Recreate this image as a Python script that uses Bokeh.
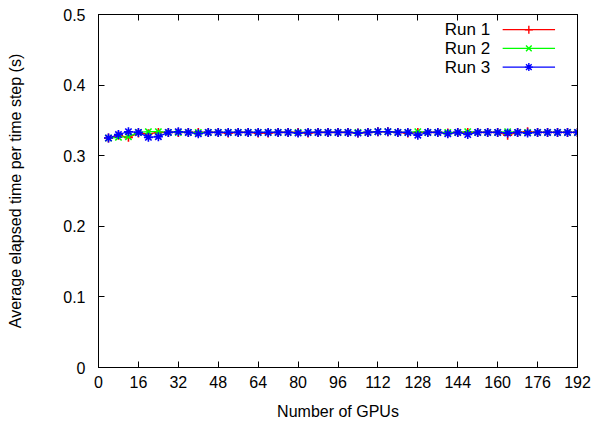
from bokeh.plotting import figure
from bokeh.models import Range1d, FixedTicker, LinearAxis, Label, CustomJSTickFormatter
from bokeh.embed import file_html
from bokeh.resources import INLINE

# ---- data ----
gpus = list(range(4, 193, 4))
run1 = [0.325, 0.329, 0.326, 0.332, 0.331, 0.333, 0.333, 0.333, 0.333, 0.333, 0.333, 0.333,
        0.332, 0.333, 0.333, 0.332, 0.332, 0.333, 0.333, 0.333, 0.332, 0.333, 0.333, 0.333,
        0.333, 0.332, 0.333, 0.334, 0.334, 0.333, 0.332, 0.333, 0.333, 0.333, 0.332, 0.333,
        0.333, 0.333, 0.333, 0.333, 0.329, 0.333, 0.334, 0.333, 0.333, 0.333, 0.333, 0.333]
run2 = [0.325, 0.326, 0.327, 0.333, 0.334, 0.334, 0.333, 0.333, 0.333, 0.333, 0.333, 0.333,
        0.333, 0.333, 0.333, 0.333, 0.333, 0.333, 0.333, 0.333, 0.333, 0.333, 0.333, 0.333,
        0.333, 0.333, 0.333, 0.334, 0.334, 0.333, 0.333, 0.334, 0.333, 0.333, 0.333, 0.333,
        0.334, 0.333, 0.333, 0.333, 0.334, 0.333, 0.333, 0.333, 0.333, 0.333, 0.333, 0.333]
run3 = [0.325, 0.330, 0.334, 0.333, 0.326, 0.327, 0.333, 0.334, 0.333, 0.331, 0.333, 0.333,
        0.333, 0.333, 0.333, 0.333, 0.333, 0.333, 0.333, 0.332, 0.333, 0.333, 0.333, 0.333,
        0.333, 0.332, 0.333, 0.334, 0.334, 0.333, 0.333, 0.329, 0.333, 0.333, 0.331, 0.333,
        0.330, 0.333, 0.333, 0.333, 0.332, 0.333, 0.332, 0.333, 0.333, 0.333, 0.333, 0.333]
series_names = ["Run 1", "Run 2", "Run 3"]
x_ticks = [0, 16, 32, 48, 64, 80, 96, 112, 128, 144, 160, 176, 192]
y_ticks = [0, 0.1, 0.2, 0.3, 0.4, 0.5]
y_tick_labels = ["0", "0.1", "0.2", "0.3", "0.4", "0.5"]

# ---- styles ----
FONT = "Liberation Sans"
colors = ["#ff0000", "#00ff00", "#0000ff"]
markers = ["cross", "x", "asterisk"]

p = figure(width=596, height=424, output_backend="svg", toolbar_location=None,
           x_range=Range1d(0, 192), y_range=Range1d(0, 0.5),
           min_border_left=98, min_border_right=19, min_border_top=14, min_border_bottom=57)
p.grid.visible = False
p.outline_line_color = "black"
p.outline_line_width = 1

def style_axis(ax):
    ax.major_tick_in = 6
    ax.major_tick_out = 0
    ax.minor_tick_in = 0
    ax.minor_tick_out = 0
    ax.axis_line_color = "black"
    ax.major_tick_line_color = "black"
    ax.major_label_text_font = FONT
    ax.major_label_text_font_size = "16px"
    ax.major_label_text_color = "black"
    ax.axis_label_text_font = FONT
    ax.axis_label_text_font_size = "16px"
    ax.axis_label_text_font_style = "normal"
    ax.axis_label_text_color = "black"

xa = p.xaxis[0]
ya = p.yaxis[0]
style_axis(xa)
style_axis(ya)
xa.ticker = FixedTicker(ticks=x_ticks)
ya.ticker = FixedTicker(ticks=y_ticks)
ya.major_label_overrides = dict(zip(y_ticks, y_tick_labels))
xa.axis_label = "Number of GPUs"
ya.axis_label = "Average elapsed time per time step (s)"
xa.major_label_standoff = 8
xa.axis_label_standoff = 12
ya.major_label_standoff = 13
ya.axis_label_standoff = 36

empty = CustomJSTickFormatter(code="return ''")
top = LinearAxis(ticker=FixedTicker(ticks=x_ticks), formatter=empty)
right = LinearAxis(ticker=FixedTicker(ticks=y_ticks), formatter=empty)
for ax in (top, right):
    style_axis(ax)
    ax.major_label_text_font_size = "0px"
    ax.major_label_standoff = 0
p.add_layout(top, "above")
p.add_layout(right, "right")

for ys, c, m in zip([run1, run2, run3], colors, markers):
    p.line(gpus, ys, line_color=c, line_width=1.2)
    p.scatter(gpus, ys, marker=m, size=9, line_color=c, line_width=1.6)

# legend (gnuplot style: label left, sample right)
leg_text_x = 157.0
leg_x0, leg_x1, leg_xm = 162.0, 183.0, 172.5
leg_y = [0.4785, 0.452, 0.4255]
for name, c, m, yy in zip(series_names, colors, markers, leg_y):
    p.add_layout(Label(x=leg_text_x, y=yy, text=name, text_align="right", text_baseline="middle",
                       text_font=FONT, text_font_size="17px", text_color="black"))
    p.line([leg_x0, leg_x1], [yy, yy], line_color=c, line_width=1.2)
    p.scatter([leg_xm], [yy], marker=m, size=8, line_color=c, line_width=1.4)

open("out.html", "w").write(file_html(p, INLINE))
